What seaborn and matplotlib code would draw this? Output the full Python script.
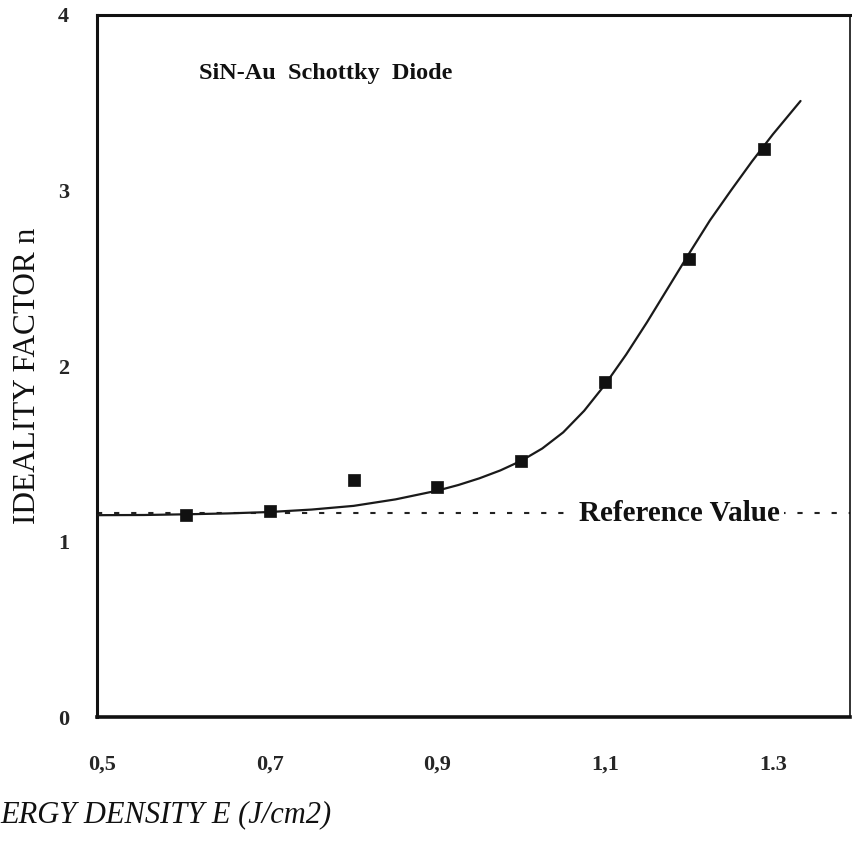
import numpy as np
import pandas as pd
import matplotlib
matplotlib.use("Agg")
import matplotlib.pyplot as plt
import seaborn as sns

# measured data points
energy = [0.6, 0.7, 0.8, 0.9, 1.0, 1.1, 1.2, 1.29]
ideality = [1.151, 1.174, 1.350, 1.31, 1.459, 1.909, 2.61, 3.236]

# fitted curve
fit_x = [0.494, 0.55, 0.6, 0.65, 0.7, 0.75, 0.8, 0.85, 0.9, 0.925, 0.95, 0.975,
         1.0, 1.025, 1.05, 1.075, 1.1, 1.125, 1.15, 1.175, 1.2, 1.225, 1.25,
         1.275, 1.3, 1.333]
fit_y = [1.150, 1.151, 1.155, 1.160, 1.168, 1.182, 1.203, 1.240, 1.290, 1.322, 1.36, 1.405,
         1.46, 1.53, 1.622, 1.745, 1.895, 2.065, 2.25, 2.445, 2.64, 2.83, 3.00,
         3.165, 3.32, 3.51]

reference_value = 1.16

x_ticks = [0.5, 0.7, 0.9, 1.1, 1.3]
x_tick_labels = ["0,5", "0,7", "0,9", "1,1", "1.3"]
y_ticks = [0, 1, 2, 3, 4]
y_tick_labels = ["0", "1", "2", "3", "4"]

sns.set_style("white")
plt.rcParams["font.family"] = ["Liberation Serif", "DejaVu Serif"]

fig = plt.figure(figsize=(8.52, 8.47), dpi=100)
ax = fig.add_axes([97 / 852, 1 - 717 / 847, (850 - 97) / 852, (717 - 15) / 847])

df_pts = pd.DataFrame({"E": energy, "n": ideality})
df_fit = pd.DataFrame({"E": fit_x, "n": fit_y})

sns.lineplot(data=df_fit, x="E", y="n", ax=ax, color="#1a1a1a", linewidth=1.6,
             sort=True, zorder=3)
sns.scatterplot(data=df_pts, x="E", y="n", ax=ax, marker="s", color="#111111",
                s=70, edgecolor="#111111", linewidth=0.5, zorder=4)

ax.axhline(reference_value, color="#222222", linewidth=1.5, linestyle=(0, (2.5, 5.7)),
           zorder=2)

ax.set_xlim(0.494, 1.392)
ax.set_ylim(0, 4)
ax.set_xticks(x_ticks)
ax.set_xticklabels(x_tick_labels, fontsize=16, fontweight="bold")
ax.set_yticks(y_ticks)
ax.set_yticklabels(y_tick_labels, fontsize=16, fontweight="bold")
ax.tick_params(axis="both", direction="in", length=7, width=1.5, color="#111111")
ax.tick_params(axis="x", pad=27)
ax.tick_params(axis="y", pad=20)

for s in ax.spines.values():
    s.set_visible(True)
    s.set_color("#111111")
ax.spines["left"].set_linewidth(2.2)
ax.spines["bottom"].set_linewidth(2.6)
ax.spines["top"].set_linewidth(2.2)
ax.spines["right"].set_linewidth(1.2)

ax.set_xlabel("")
ax.set_ylabel("")

fig.text(28 / 852, 1 - 376 / 847, "IDEALITY FACTOR n", fontsize=22.5, rotation=90,
         ha="center", va="center", color="#111111")

ax.text(0.1355, 0.917, "SiN-Au  Schottky  Diode", transform=ax.transAxes,
        fontsize=17.5, fontweight="bold", ha="left", va="center", color="#111111")

ax.text(0.774, reference_value, "Reference Value", transform=ax.get_yaxis_transform(),
        fontsize=21, fontweight="bold", ha="center", va="center", color="#111111",
        bbox=dict(facecolor="white", edgecolor="none", pad=3), zorder=5)

fig.text(0.0, 1 - 815 / 847, "ERGY DENSITY E (J/cm2)", fontsize=22, style="italic",
         ha="left", va="center", color="#111111")

fig.savefig("out.png", dpi=100, facecolor="white")
